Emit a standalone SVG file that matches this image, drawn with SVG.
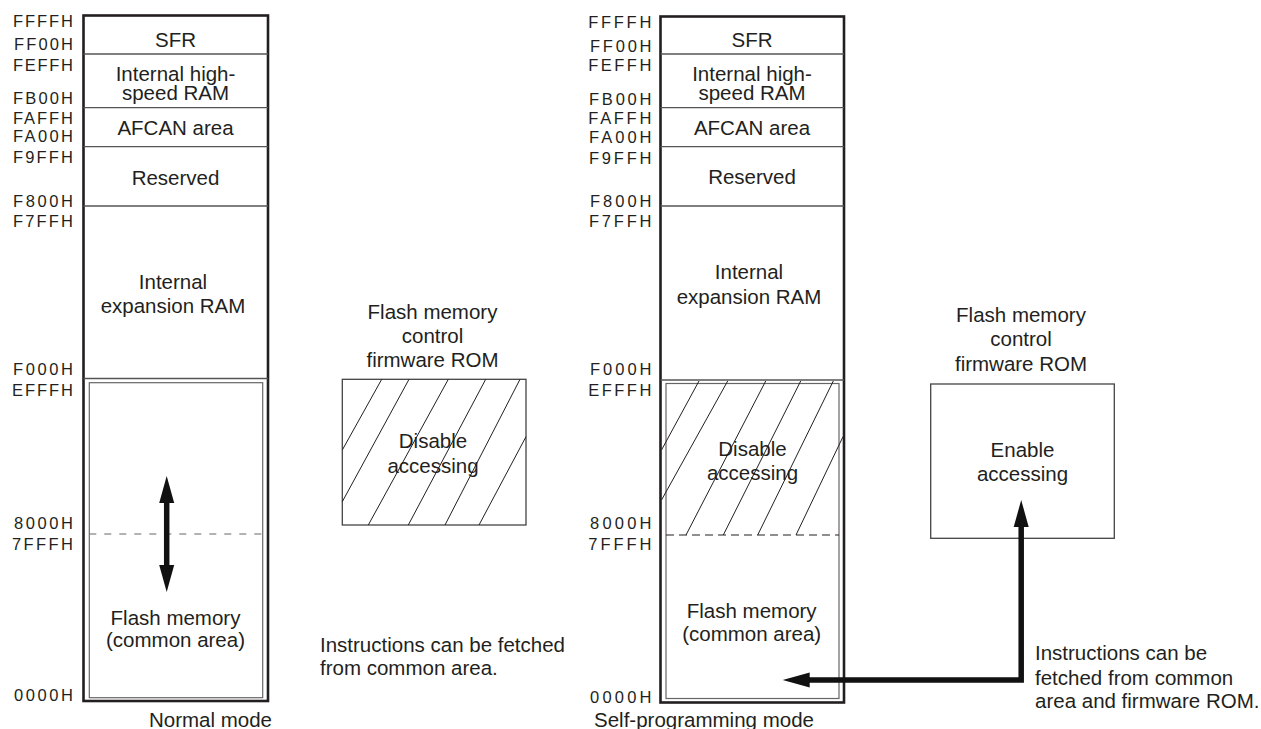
<svg xmlns="http://www.w3.org/2000/svg" width="1261" height="729" viewBox="0 0 1261 729">
<style>
text{font-family:"Liberation Sans",Arial,sans-serif;fill:#231f20}
.t{font-size:20.5px;text-anchor:middle}
.tl{font-size:20.5px}
.a{font-family:"Liberation Sans Narrow","Liberation Sans",Arial,sans-serif;font-size:16.5px}
.outer{fill:none;stroke:#231f20;stroke-width:2.6}
.div{stroke:#555;stroke-width:1.3;fill:none}
.inner{fill:none;stroke:#666;stroke-width:1.2}
.hatch{stroke:#231f20;stroke-width:1;fill:none}
.rom{fill:none;stroke:#444;stroke-width:1.3}
.arrow{fill:none;stroke:#111;stroke-width:5.5;stroke-linejoin:miter}
</style>
<defs>
<marker id="head" markerUnits="userSpaceOnUse" markerWidth="28" markerHeight="16" viewBox="0 0 28 16" refX="13" refY="8" orient="auto-start-reverse">
<path d="M0,0.5 L27,8 L0,15.5 z" fill="#111"/>
</marker>
</defs>

<g id="left-addresses">
<text class="a" x="13" y="27" textLength="60" lengthAdjust="spacing">FFFFH</text>
<text class="a" x="14" y="50" textLength="59" lengthAdjust="spacing">FF00H</text>
<text class="a" x="13" y="70.5" textLength="60" lengthAdjust="spacing">FEFFH</text>
<text class="a" x="13" y="104" textLength="60" lengthAdjust="spacing">FB00H</text>
<text class="a" x="13" y="124" textLength="60" lengthAdjust="spacing">FAFFH</text>
<text class="a" x="13" y="142" textLength="60" lengthAdjust="spacing">FA00H</text>
<text class="a" x="13" y="163" textLength="60" lengthAdjust="spacing">F9FFH</text>
<text class="a" x="13" y="206.5" textLength="60" lengthAdjust="spacing">F800H</text>
<text class="a" x="13" y="226.5" textLength="60" lengthAdjust="spacing">F7FFH</text>
<text class="a" x="13" y="375" textLength="60" lengthAdjust="spacing">F000H</text>
<text class="a" x="12" y="396" textLength="61" lengthAdjust="spacing">EFFFH</text>
<text class="a" x="14" y="529" textLength="59" lengthAdjust="spacing">8000H</text>
<text class="a" x="12" y="550" textLength="61" lengthAdjust="spacing">7FFFH</text>
<text class="a" x="14" y="701" textLength="59" lengthAdjust="spacing">0000H</text>
</g>

<g id="left-map">
<rect class="outer" x="83.5" y="15.5" width="184.5" height="685.5"/>
<line class="div" x1="83.5" y1="54" x2="268" y2="54"/>
<line class="div" x1="83.5" y1="107.7" x2="268" y2="107.7"/>
<line class="div" x1="83.5" y1="146.7" x2="268" y2="146.7"/>
<line class="div" x1="83.5" y1="206" x2="268" y2="206"/>
<line class="div" x1="83.5" y1="378.5" x2="268" y2="378.5"/>
<rect class="inner" x="89.3" y="382.7" width="173.4" height="315"/>
<line x1="89.3" y1="534" x2="262.7" y2="534" stroke="#666" stroke-width="1.2" stroke-dasharray="7,8"/>
<text class="t" x="175.5" y="46.5">SFR</text>
<text class="t" x="175.5" y="80.5">Internal high-</text>
<text class="t" x="175.5" y="100">speed RAM</text>
<text class="t" x="175.5" y="135">AFCAN area</text>
<text class="t" x="175.5" y="185">Reserved</text>
<text class="t" x="173" y="289.3">Internal</text>
<text class="t" x="173" y="313.3">expansion RAM</text>
<text class="t" x="175.5" y="625">Flash memory</text>
<text class="t" x="175.5" y="647">(common area)</text>
<text class="t" x="210.5" y="727">Normal mode</text>
</g>

<g id="middle-rom">
<text class="t" x="432.5" y="319">Flash memory</text>
<text class="t" x="432.5" y="343">control</text>
<text class="t" x="432.5" y="367">firmware ROM</text>
<rect class="rom" x="342.3" y="379.3" width="183.7" height="145.7"/>
<path class="hatch" d="M342.3,450 L381.7,379.3 M342.3,501.7 L409,379.3 M368.3,525 L448.3,379.3 M408.3,525 L485.7,379.3 M445,525 L520,379.3 M479,525 L526,436.7"/>
<text class="t" x="433" y="448">Disable</text>
<text class="t" x="433" y="472.7">accessing</text>
<text class="tl" x="320" y="651.5">Instructions can be fetched</text>
<text class="tl" x="320" y="675">from common area.</text>
</g>

<g id="right-addresses">
<text class="a" x="588.3" y="28" textLength="63" lengthAdjust="spacing">FFFFH</text>
<text class="a" x="590" y="51.7" textLength="61.5" lengthAdjust="spacing">FF00H</text>
<text class="a" x="588.3" y="70.7" textLength="63" lengthAdjust="spacing">FEFFH</text>
<text class="a" x="589" y="105" textLength="62.5" lengthAdjust="spacing">FB00H</text>
<text class="a" x="588.3" y="124" textLength="63" lengthAdjust="spacing">FAFFH</text>
<text class="a" x="589" y="142.7" textLength="62.5" lengthAdjust="spacing">FA00H</text>
<text class="a" x="589" y="164" textLength="62.5" lengthAdjust="spacing">F9FFH</text>
<text class="a" x="590" y="206.7" textLength="61.5" lengthAdjust="spacing">F800H</text>
<text class="a" x="589" y="226.5" textLength="62.5" lengthAdjust="spacing">F7FFH</text>
<text class="a" x="590" y="375" textLength="61.5" lengthAdjust="spacing">F000H</text>
<text class="a" x="588.3" y="396" textLength="63" lengthAdjust="spacing">EFFFH</text>
<text class="a" x="590" y="529" textLength="61.5" lengthAdjust="spacing">8000H</text>
<text class="a" x="588.3" y="550" textLength="63" lengthAdjust="spacing">7FFFH</text>
<text class="a" x="590" y="702.7" textLength="61.5" lengthAdjust="spacing">0000H</text>
</g>

<g id="right-map">
<rect class="outer" x="660.5" y="16.5" width="183.5" height="686"/>
<line class="div" x1="660.5" y1="54" x2="844" y2="54"/>
<line class="div" x1="660.5" y1="107.7" x2="844" y2="107.7"/>
<line class="div" x1="660.5" y1="146.7" x2="844" y2="146.7"/>
<line class="div" x1="660.5" y1="206" x2="844" y2="206"/>
<line class="div" x1="660.5" y1="380" x2="844" y2="380"/>
<rect class="inner" x="666" y="383.5" width="173" height="315"/>
<path class="hatch" d="M661.5,450 L699,381 M661.5,500 L727.7,381 M686,535 L765.7,381 M723.3,535 L800.7,381 M757.7,535 L833.3,381 M796,535 L843,436.7"/>
<line x1="666" y1="535" x2="839" y2="535" stroke="#231f20" stroke-width="1.1" stroke-dasharray="8,5"/>
<text class="t" x="752" y="46.7">SFR</text>
<text class="t" x="752" y="80.5">Internal high-</text>
<text class="t" x="752" y="100">speed RAM</text>
<text class="t" x="752" y="135">AFCAN area</text>
<text class="t" x="752" y="184.3">Reserved</text>
<text class="t" x="749" y="279.3">Internal</text>
<text class="t" x="749" y="304">expansion RAM</text>
<text class="t" x="752.5" y="456">Disable</text>
<text class="t" x="752.5" y="480">accessing</text>
<text class="t" x="751.7" y="618">Flash memory</text>
<text class="t" x="751.7" y="641">(common area)</text>
<text class="t" x="704" y="727">Self-programming mode</text>
</g>

<g id="right-rom">
<text class="t" x="1021" y="321.7">Flash memory</text>
<text class="t" x="1021" y="346">control</text>
<text class="t" x="1021" y="370.7">firmware ROM</text>
<rect class="rom" x="930.7" y="384" width="183.6" height="154.3"/>
<text class="t" x="1022.5" y="456.7">Enable</text>
<text class="t" x="1022.5" y="480.7">accessing</text>
<text class="tl" x="1035" y="660">Instructions can be</text>
<text class="tl" x="1035" y="684.5">fetched from common</text>
<text class="tl" x="1035" y="708">area and firmware ROM.</text>
</g>

<g id="connectors">
<path class="arrow" d="M166.7,490 L166.7,578" marker-start="url(#head)" marker-end="url(#head)"/>
<path class="arrow" d="M796.7,680 L1021.2,680 L1021.2,514" marker-start="url(#head)" marker-end="url(#head)"/>
</g>
</svg>
